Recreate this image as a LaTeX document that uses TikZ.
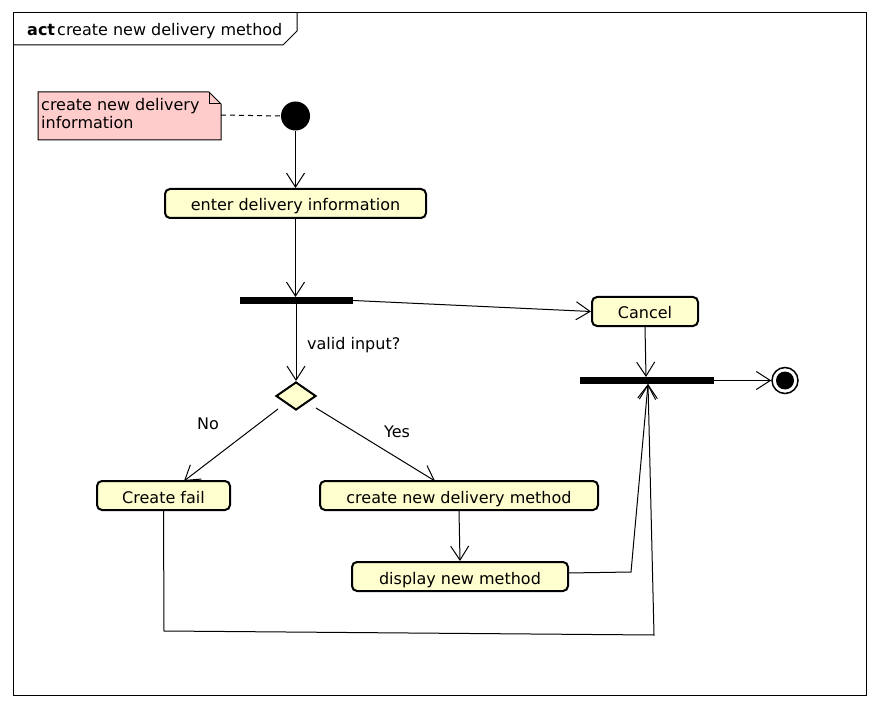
\documentclass[tikz,border=0pt]{standalone}
\usepackage{fontspec}
\setmainfont{DejaVu Sans}
\usetikzlibrary{arrows.meta,shapes.geometric}
\definecolor{actfill}{HTML}{FEFECE}
\definecolor{notefill}{HTML}{FFCCCC}
\begin{document}
\begin{tikzpicture}[x=1pt,y=-1pt,
  every node/.style={font=\fontsize{16}{18}\selectfont},
  action/.style={draw, line width=2pt, rounded corners=5pt, fill=actfill,
    minimum height=29pt, inner sep=0pt, text height=15pt, text depth=0pt},
  syncbar/.style={fill=black, inner sep=0pt, minimum height=7pt},
  flow/.style={line width=1pt, -{Straight Barb[length=14pt,width=18pt,line width=1pt]}},
  lbl/.style={inner sep=0pt, text height=11pt, text depth=3pt},
]
% canvas
\useasboundingbox (0,0) rectangle (880,708);
\fill[white] (0,0) rectangle (880,708);

% activity frame with title tab
\draw[line width=1pt] (13,13) rectangle (866,695);
\draw[line width=1pt] (13,45) -- (283,45) -- (297,31) -- (297,13);
\node[lbl, anchor=base west, font=\fontsize{16}{18}\bfseries] (actkw) at (27,36) {act};
\node[lbl, anchor=base west] (acttitle) at (57,36) {create new delivery method};

% note
\draw[line width=1pt, fill=notefill] (38,92) -- (209,92) -- (221,104) -- (221,140) -- (38,140) -- cycle;
\draw[line width=1pt] (209,92) -- (209,104) -- (221,104);
\node[anchor=north west, inner sep=0pt, align=left] (note) at (41,98.5)
  {create new delivery\\information};
\coordinate (noteR) at (221,115);

% initial node
\node[circle, fill=black, minimum size=29pt, inner sep=0pt] (start) at (295.5,116) {};

% actions
\node[action, minimum width=261pt] (enter) at (295.5,203.5) {enter delivery information};
\node[syncbar, minimum width=113pt] (fork) at (296.5,300.5) {};
\node[action, minimum width=106pt] (cancel) at (645,311.5) {Cancel};
\node[syncbar, minimum width=134pt] (join) at (647,380.5) {};
\node[diamond, draw, line width=2pt, fill=actfill, inner sep=0pt,
      minimum width=40pt, minimum height=28pt] (valid) at (296,396) {};
\node[action, minimum width=133pt] (fail) at (163.5,495.5) {Create fail};
\node[action, minimum width=278pt] (create) at (459,495.5) {create new delivery method};
\node[action, minimum width=216pt] (display) at (460,576.5) {display new method};

% final node
\node[circle, draw, line width=1.5pt, fill=white, minimum size=26pt, inner sep=0pt] (final) at (785,380.5) {};
\node[circle, fill=black, minimum size=18pt, inner sep=0pt] (finaldot) at (final.center) {};

% guard labels
\node[lbl, anchor=west] (guard) at (307,345) {valid input?};
\node[lbl] (nolbl) at (208,425) {No};
\node[lbl] (yeslbl) at (397,433) {Yes};

% connector end points off the node borders
\coordinate (forkIn) at (295.5,297);
\coordinate (forkOut) at (296,304);
\coordinate (validL) at (278,409);
\coordinate (validR) at (316,408);
\coordinate (failIn) at (184,481);
\coordinate (createIn) at (435,481);
\coordinate (dispOut) at (568,573);
\coordinate (dispBend) at (631,572);
\coordinate (failDown) at (164,631);
\coordinate (failRight) at (654,635);
\coordinate (joinUnder) at (648,384);
\coordinate (joinOver) at (646,377);

% flows
\draw[line width=1pt, dashed, dash pattern=on 5pt off 4pt] (noteR) -- (start.west);
\draw[flow] (start.south) -- (enter.north);
\draw[flow] (enter.south) -- (forkIn);
\draw[flow] (fork.east) -- (cancel.west);
\draw[flow] (forkOut) -- (valid.north);
\draw[flow] (validL) -- (failIn);
\draw[flow] (validR) -- (createIn);
\draw[flow] (create.south) -- (display.north);
\draw[flow] (cancel.south) -- (joinOver);
\draw[flow] (dispOut) -- (dispBend) -- (joinUnder);
\draw[flow] (fail.south) -- (failDown) -- (failRight) -- (joinUnder);
\draw[flow] (join.east) -- (final.west);
\end{tikzpicture}
\end{document}
